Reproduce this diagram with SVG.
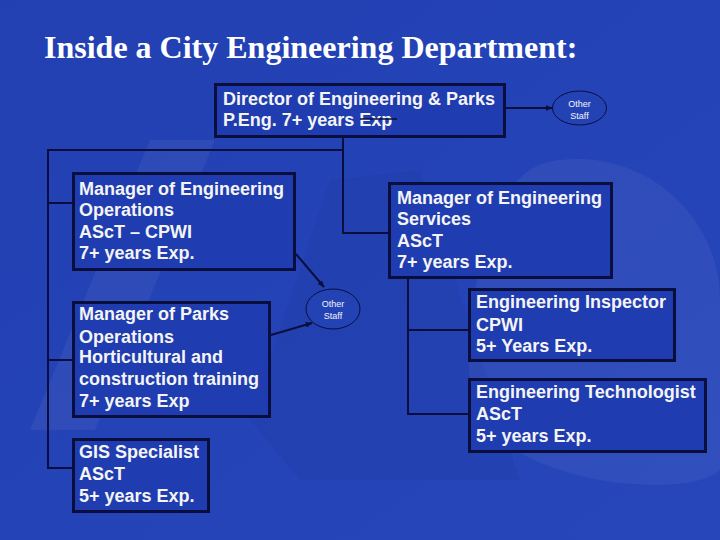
<svg xmlns="http://www.w3.org/2000/svg" width="720" height="540" viewBox="0 0 720 540">
  <defs>
    <linearGradient id="bg" x1="0" y1="0" x2="1" y2="1">
      <stop offset="0" stop-color="#2240b2"/>
      <stop offset="1" stop-color="#2646ba"/>
    </linearGradient>
    <marker id="arr" viewBox="0 0 10 10" refX="9" refY="5" markerWidth="7" markerHeight="7" orient="auto" markerUnits="userSpaceOnUse">
      <path d="M0,1 L10,5 L0,9 z" fill="#0a0e3c"/>
    </marker>
    <style>
      .box { fill: #1f3db0; stroke: #0a0e3c; stroke-width: 3; }
      .t { font-family: "Liberation Sans", Arial, sans-serif; font-weight: bold; font-size: 18px; fill: #f4f4f4; }
      .small { font-family: "Liberation Sans", Arial, sans-serif; font-size: 9px; fill: #f4f4f4; text-anchor: middle; }
      .conn { fill: none; stroke: #0a0e3c; stroke-width: 2; }
      .oval { fill: #2343b5; stroke: #0a0e3c; stroke-width: 1; }
      .title { font-family: "Liberation Serif", "Times New Roman", serif; font-weight: bold; font-size: 32px; fill: #ffffff; }
    </style>
  </defs>

  <rect x="0" y="0" width="720" height="540" fill="url(#bg)"/>
  <!-- faint background logo -->
  <g opacity="0.05" fill="#ffffff">
    <path d="M150,140 L215,140 L95,430 L30,430 z"/>
    <path d="M560,160 C650,150 720,220 720,300 L720,470 C700,490 620,490 560,470 C500,450 460,420 470,330 C480,240 500,165 560,160 z"/>
  </g>
  <g opacity="0.04" fill="#000030">
    <path d="M330,180 L420,170 L520,480 L300,480 L250,420 z"/>
  </g>

  <text class="title" x="44" y="58">Inside a City Engineering Department:</text>

  <g id="connectors">
    <path class="conn" d="M343,138 V233 H388"/>
    <path class="conn" d="M343,150 H48 V468 H72"/>
    <path class="conn" d="M48,203 H72"/>
    <path class="conn" d="M48,360 H72"/>
    <path class="conn" d="M408,279 V414 H468"/>
    <path class="conn" d="M408,330 H468"/>
    <line class="conn" x1="506" y1="108" x2="552" y2="108" marker-end="url(#arr)"/>
    <line class="conn" x1="296" y1="254" x2="324" y2="287" marker-end="url(#arr)" stroke-width="1.5"/>
    <line class="conn" x1="271" y1="335" x2="312" y2="323" marker-end="url(#arr)" stroke-width="1.5"/>
  </g>

  <g id="director">
    <rect class="box" x="215.5" y="84.5" width="289" height="52"/>
    <text class="t" x="223" y="105">Director of Engineering &amp; Parks<tspan x="223" y="126">P.Eng. 7+ years Exp</tspan></text>
    <line x1="360" y1="119" x2="397" y2="119" stroke="#0a0e3c" stroke-width="1.5"/>
  </g>

  <g id="other-staff-top">
    <ellipse class="oval" cx="579.5" cy="108" rx="27" ry="17"/>
    <text class="small" x="579.5" y="107">Other</text>
    <text class="small" x="579.5" y="119">Staff</text>
  </g>

  <g id="mgr-eng-ops">
    <rect class="box" x="73.5" y="173.5" width="221" height="96"/>
    <text class="t" x="79" y="195">Manager of Engineering<tspan x="79" y="216">Operations</tspan><tspan x="79" y="238">AScT – CPWI</tspan><tspan x="79" y="259">7+ years Exp.</tspan></text>
  </g>

  <g id="mgr-eng-services">
    <rect class="box" x="389.5" y="183.5" width="222" height="94"/>
    <text class="t" x="397" y="204">Manager of Engineering<tspan x="397" y="225">Services</tspan><tspan x="397" y="247">AScT</tspan><tspan x="397" y="268">7+ years Exp.</tspan></text>
  </g>

  <g id="other-staff-mid">
    <ellipse class="oval" cx="333" cy="309" rx="27" ry="20"/>
    <text class="small" x="333" y="307">Other</text>
    <text class="small" x="333" y="319">Staff</text>
  </g>

  <g id="mgr-parks">
    <rect class="box" x="73.5" y="302.5" width="196" height="114"/>
    <text class="t" x="79" y="320">Manager of Parks<tspan x="79" y="343">Operations</tspan><tspan x="79" y="363">Horticultural and</tspan><tspan x="79" y="385">construction training</tspan><tspan x="79" y="407">7+ years Exp</tspan></text>
  </g>

  <g id="gis">
    <rect class="box" x="73.5" y="439.5" width="135" height="72"/>
    <text class="t" x="79" y="458">GIS Specialist<tspan x="79" y="480">AScT</tspan><tspan x="79" y="502">5+ years Exp.</tspan></text>
  </g>

  <g id="inspector">
    <rect class="box" x="469.5" y="289.5" width="205" height="71"/>
    <text class="t" x="476" y="308">Engineering Inspector<tspan x="476" y="331">CPWI</tspan><tspan x="476" y="352">5+ Years Exp.</tspan></text>
  </g>

  <g id="technologist">
    <rect class="box" x="469.5" y="379.5" width="236" height="72"/>
    <text class="t" x="476" y="398">Engineering Technologist<tspan x="476" y="420">AScT</tspan><tspan x="476" y="442">5+ years Exp.</tspan></text>
  </g>
</svg>
